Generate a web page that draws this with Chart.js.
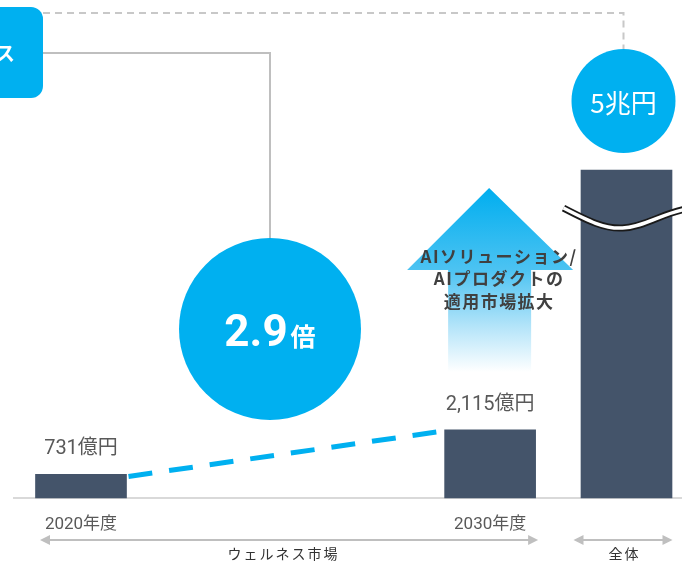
<!DOCTYPE html>
<html lang="ja">
<head>
<meta charset="utf-8">
<script src="https://cdn.jsdelivr.net/npm/chart.js@4.4.1/dist/chart.umd.min.js"></script>
<style>
  html, body { margin: 0; padding: 0; background: #fff; }
  #wrap { width: 682px; height: 561px; overflow: hidden; }
</style>
</head>
<body>
<div id="wrap"><canvas id="chart" width="682" height="561"></canvas></div>
<script>
// Market size in 億円: wellness market 2020年度 / 2030年度, and the overall market
const categories = ['2020年度', '', '', '2030年度', '全体'];
const tickLabels = ['2020年度', '', '', '2030年度', ''];
const marketValues = [731, null, null, 2115, 50000];
const groupLabels = ['ウェルネス市場', '全体'];
const calloutLines = ['AIソリューション/', 'AIプロダクトの', '適用市場拡大'];
const sideLabel = 'ス';

// Value axis break: values above AXIS_BREAK are squeezed into the top slice
const AXIS_BREAK = 9000;
const BREAK_SHARE = 0.884;

const BLUE = '#00B0F0';
const BAR = '#44546A';
const JP = '"Noto Sans CJK JP", sans-serif';
const NUM = 'Roboto, "Noto Sans CJK JP", sans-serif';

class BrokenLinearScale extends Chart.LinearScale {
  getPixelForValue(value) {
    if (value === null || value === undefined || isNaN(value)) return NaN;
    const lo = this.min, hi = this.max;
    let d;
    if (value <= AXIS_BREAK) {
      d = (value - lo) / (AXIS_BREAK - lo) * BREAK_SHARE;
    } else {
      d = BREAK_SHARE + (value - AXIS_BREAK) / (hi - AXIS_BREAK) * (1 - BREAK_SHARE);
    }
    return this.getPixelForDecimal(d);
  }
}
BrokenLinearScale.id = 'brokenLinear';
BrokenLinearScale.defaults = Chart.LinearScale.defaults;
Chart.register(BrokenLinearScale);

function formatYen(v) {
  return v >= 10000 ? (v / 10000) + '兆円' : v.toLocaleString('en-US') + '億円';
}

function arrowHead(ctx, x, y, dir) {
  ctx.beginPath();
  ctx.moveTo(x, y);
  ctx.lineTo(x - dir * 10, y - 5);
  ctx.lineTo(x - dir * 10, y + 5);
  ctx.closePath();
  ctx.fill();
}

function bracket(ctx, x1, x2, y) {
  ctx.beginPath();
  ctx.moveTo(x1 + 6, y);
  ctx.lineTo(x2 - 6, y);
  ctx.stroke();
  arrowHead(ctx, x1, y, -1);
  arrowHead(ctx, x2, y, 1);
}

const decor = {
  id: 'decor',
  beforeDatasetsDraw(chart) {
    const { ctx } = chart;
    const y0 = chart.scales.y.getPixelForValue(0);
    ctx.save();
    ctx.strokeStyle = '#D9D9D9';
    ctx.lineWidth = 2;
    ctx.beginPath();
    ctx.moveTo(13, y0);
    ctx.lineTo(chart.width, y0);
    ctx.stroke();
    ctx.restore();
  },
  afterDatasetsDraw(chart) {
    const { ctx } = chart;
    const yScale = chart.scales.y;
    const els = chart.getDatasetMeta(0).data;
    const b1 = els[0].getProps(['x', 'y', 'width'], true);
    const b2 = els[3].getProps(['x', 'y', 'width'], true);
    const b3 = els[4].getProps(['x', 'y', 'width'], true);

    ctx.save();

    // growth line between the two wellness bars
    ctx.strokeStyle = BLUE;
    ctx.lineWidth = 5;
    ctx.setLineDash([24, 17]);
    ctx.beginPath();
    ctx.moveTo(b1.x + b1.width / 2 + 2, b1.y + 2);
    ctx.lineTo(b2.x - b2.width / 2, b2.y + 1);
    ctx.stroke();
    ctx.setLineDash([]);

    // value labels above the wellness bars
    ctx.fillStyle = '#595959';
    ctx.font = '400 20px ' + NUM;
    ctx.textAlign = 'center';
    ctx.textBaseline = 'middle';
    [[b1, marketValues[0]], [b2, marketValues[3]]].forEach(([b, v]) => {
      ctx.fillText(formatYen(v), b.x, b.y - 25);
    });

    // break mark across the overall bar
    const yb = yScale.getPixelForValue(AXIS_BREAK);
    const wave = () => {
      ctx.beginPath();
      ctx.moveTo(b3.x - 63, yb);
      ctx.bezierCurveTo(b3.x - 38, yb + 13, b3.x - 22, yb + 21, b3.x - 4, yb + 20);
      ctx.bezierCurveTo(b3.x + 18, yb + 19, b3.x + 36, yb + 5, b3.x + 60, yb + 1);
    };
    ctx.lineCap = 'butt';
    wave();
    ctx.strokeStyle = '#1A1A1A';
    ctx.lineWidth = 7;
    ctx.stroke();
    wave();
    ctx.strokeStyle = '#FFFFFF';
    ctx.lineWidth = 3.5;
    ctx.stroke();

    // dashed connector from the side box to the overall market bubble
    const cx5 = b3.x - 3;
    ctx.strokeStyle = '#C8C8C8';
    ctx.lineWidth = 2;
    ctx.setLineDash([7, 5]);
    ctx.beginPath();
    ctx.moveTo(43, 13);
    ctx.lineTo(cx5, 13);
    ctx.lineTo(cx5, 49);
    ctx.stroke();
    ctx.setLineDash([]);

    // solid connector from the side box to the growth bubble
    const cxG = 270, cyG = 329, rG = 91;
    ctx.strokeStyle = '#BFBFBF';
    ctx.beginPath();
    ctx.moveTo(43, 53);
    ctx.lineTo(cxG, 53);
    ctx.lineTo(cxG, cyG - rG);
    ctx.stroke();

    // side box
    ctx.fillStyle = BLUE;
    ctx.beginPath();
    ctx.roundRect(-40, 7, 83, 91, 12);
    ctx.fill();
    ctx.fillStyle = '#FFFFFF';
    ctx.font = '700 20px ' + JP;
    ctx.textAlign = 'right';
    ctx.fillText(sideLabel, 15, 53);

    // overall market bubble
    ctx.fillStyle = BLUE;
    ctx.beginPath();
    ctx.arc(cx5, 101, 52, 0, Math.PI * 2);
    ctx.fill();
    ctx.fillStyle = '#FFFFFF';
    ctx.font = '400 26px ' + JP;
    ctx.textAlign = 'center';
    ctx.fillText(formatYen(marketValues[4]), cx5, 103);

    // growth bubble
    ctx.fillStyle = BLUE;
    ctx.beginPath();
    ctx.arc(cxG, cyG, rG, 0, Math.PI * 2);
    ctx.fill();
    const ratio = (marketValues[3] / marketValues[0]).toFixed(1);
    ctx.fillStyle = '#FFFFFF';
    ctx.textBaseline = 'alphabetic';
    ctx.font = '700 44px ' + NUM;
    const w1 = ctx.measureText(ratio).width;
    ctx.font = '700 25px ' + JP;
    const w2 = ctx.measureText('倍').width;
    const sx = cxG - (w1 + w2 + 3) / 2;
    ctx.textAlign = 'left';
    ctx.font = '700 44px ' + NUM;
    ctx.fillText(ratio, sx, 346);
    ctx.font = '700 25px ' + JP;
    ctx.fillText('倍', sx + w1 + 3, 346);

    // expansion arrow above the 2030 bar
    const ax = b2.x - 1;
    const g = ctx.createLinearGradient(0, 188, 0, 372);
    g.addColorStop(0, '#00AEEF');
    g.addColorStop(0.45, '#4DC3F2');
    g.addColorStop(0.75, '#B3E4F9');
    g.addColorStop(1, '#FFFFFF');
    ctx.fillStyle = g;
    ctx.beginPath();
    ctx.moveTo(ax, 188);
    ctx.lineTo(ax + 84, 270);
    ctx.lineTo(ax + 42, 270);
    ctx.lineTo(ax + 42, 372);
    ctx.lineTo(ax - 41, 372);
    ctx.lineTo(ax - 41, 270);
    ctx.lineTo(ax - 82, 270);
    ctx.closePath();
    ctx.fill();

    ctx.fillStyle = '#404040';
    ctx.font = '700 17px ' + JP;
    ctx.textAlign = 'center';
    ctx.textBaseline = 'middle';
    ctx.letterSpacing = '1.5px';
    calloutLines.forEach((t, i) => ctx.fillText(t, ax + 10, 256.5 + i * 22.5));

    // group brackets under the axis
    ctx.letterSpacing = '0px';
    ctx.strokeStyle = '#BFBFBF';
    ctx.fillStyle = '#BFBFBF';
    ctx.lineWidth = 2;
    bracket(ctx, b1.x - 41, b2.x + 48, 540);
    bracket(ctx, b3.x - 53, b3.x + 46, 540);

    ctx.fillStyle = '#333333';
    ctx.font = '400 14px ' + JP;
    ctx.letterSpacing = '2px';
    ctx.fillText(groupLabels[0], (b1.x + b2.x) / 2 - 2, 554);
    ctx.fillText(groupLabels[1], b3.x - 2, 554);

    ctx.restore();
  }
};

new Chart(document.getElementById('chart'), {
  type: 'bar',
  data: {
    labels: categories,
    datasets: [{
      data: marketValues,
      backgroundColor: BAR,
      barThickness: 91,
      clip: false
    }]
  },
  options: {
    responsive: false,
    devicePixelRatio: 1,
    animation: false,
    layout: { padding: { left: 81, right: 55.5, top: 170, bottom: 0 } },
    plugins: { legend: { display: false }, tooltip: { enabled: false } },
    scales: {
      x: {
        type: 'category',
        offset: false,
        grid: { display: false, drawTicks: false },
        border: { display: false },
        ticks: {
          autoSkip: false,
          maxRotation: 0,
          padding: 17,
          color: '#595959',
          font: { family: 'Roboto, "Noto Sans CJK JP", sans-serif', size: 17 },
          callback: (v, i) => tickLabels[i]
        },
        afterFit: (scale) => { scale.height = 63; }
      },
      y: {
        type: 'brokenLinear',
        display: false,
        min: 0,
        max: 50000
      }
    }
  },
  plugins: [decor]
});
</script>
</body>
</html>
